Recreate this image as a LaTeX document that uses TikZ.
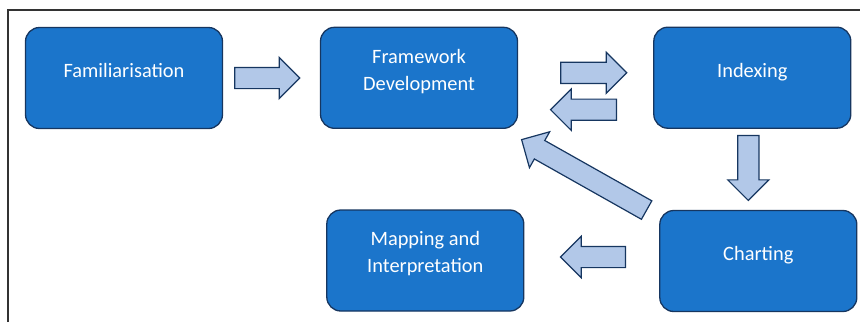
\documentclass[tikz,border=0pt]{standalone}
\usepackage{fontspec}
\setmainfont{Carlito}
\usetikzlibrary{shapes.arrows}
\definecolor{boxblue}{RGB}{27,117,203}
\definecolor{edgeblue}{RGB}{22,54,96}
\definecolor{arrowblue}{RGB}{178,200,232}
\tikzset{
  stage/.style={draw=edgeblue,line width=1.3bp,fill=boxblue,rounded corners=14bp,
    minimum width=197bp,minimum height=101bp},
  stagetext/.style={text=white,font=\fontsize{20.4bp}{27bp}\selectfont,align=center,
    anchor=base,inner sep=0pt},
  flow/.style={single arrow,draw=edgeblue,line width=1.2bp,fill=arrowblue,
    inner xsep=0pt,inner ysep=10bp,single arrow head extend=10bp,anchor=tail}
}
\begin{document}
\begin{tikzpicture}[x=1bp,y=-1bp]
\useasboundingbox (0,0) rectangle (860,322);
% outer frame
\draw[black!80,line width=1.2bp] (8,322) -- (8,10) -- (860,10);
% the five stages
\node[stage] (fam) at (124,78) {};
\node[stage] (frame) at (419,77.8) {};
\node[stage] (index) at (752.3,77.7) {};
\node[stage] (chart) at (758.3,261) {};
\node[stage] (map) at (425.3,260.5) {};
% labels sit a little above the middle; two-line ones hang from the last baseline
\node[stagetext] (fam-t) at ([yshift=1bp]fam.center) {Familiarisation};
\node[stagetext] (frame-t) at ([yshift=-12.3bp]frame.center) {Framework\\Development};
\node[stagetext] (index-t) at ([yshift=0.5bp]index.center) {Indexing};
\node[stagetext] (chart-t) at ([yshift=1bp]chart.center) {Charting};
\node[stagetext] (map-t) at ([yshift=-12.2bp]map.center) {Mapping and\\Interpretation};
% block arrows between the stages
\node[flow,minimum height=65bp] (a1) at ([xshift=11bp]fam.east) {};
\node[flow,minimum height=66bp] (a2) at ([shift={(42,-5)}]frame.east) {};
\node[flow,minimum height=66bp,rotate=180] (a3) at ([shift={(-36,32)}]index.west) {};
\node[flow,minimum height=65bp,rotate=-90] (a4) at ([shift={(-4,6)}]index.south) {};
\node[flow,minimum height=143.5bp,rotate=150.6] (a5) at ([shift={(-12,0.5)}]chart.north west) {};
\node[flow,minimum height=65bp,rotate=180] (a6) at ([shift={(-33,-4)}]chart.west) {};
\end{tikzpicture}
\end{document}
